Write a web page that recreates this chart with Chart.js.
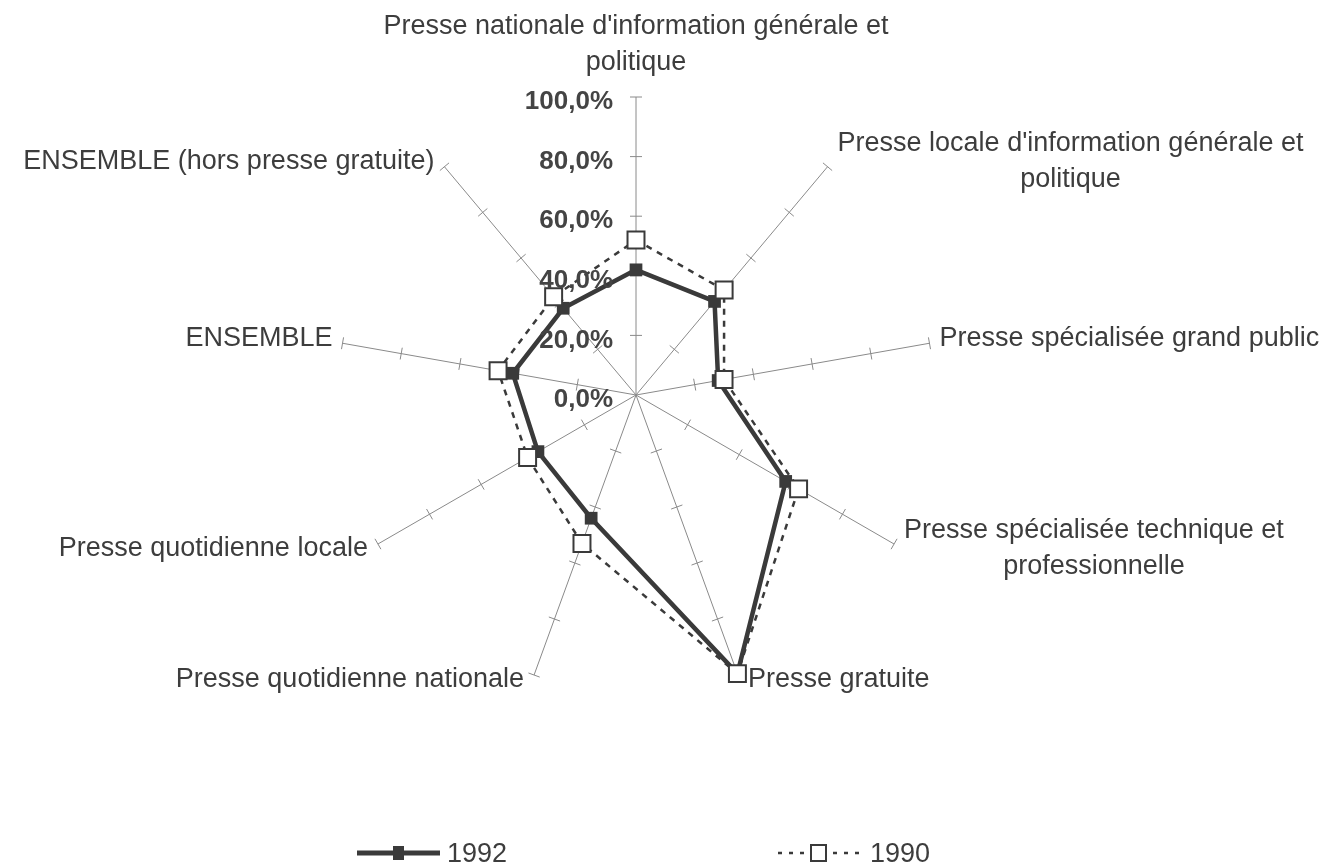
<!DOCTYPE html>
<html>
<head>
<meta charset="utf-8">
<script src="https://cdn.jsdelivr.net/npm/chart.js@4"></script>
<style>
	html, body { margin: 0; padding: 0; background: #fff; }
	#wrap { width: 1326px; height: 867px; position: relative; }
</style>
</head>
<body>
<div id="wrap"><canvas id="radar"></canvas></div>
<script>
// categories (multi-line labels as arrays)
const categories = [
	["Presse nationale d'information générale et", "politique"],
	["Presse locale d'information générale et", "politique"],
	["Presse spécialisée grand public"],
	["Presse spécialisée technique et", "professionnelle"],
	["Presse gratuite"],
	["Presse quotidienne nationale"],
	["Presse quotidienne locale"],
	["ENSEMBLE"],
	["ENSEMBLE (hors presse gratuite)"],
];

const values1992 = [42, 41, 28, 58, 99.5, 44, 38, 42, 38];
const values1990 = [52, 46, 30, 63, 99.5, 53, 42, 47, 43];

const tickValues = [0, 20, 40, 60, 80, 100];

const textColor = '#3d3d3d';
const labelFont = '27px "Liberation Sans", Arial, sans-serif';

function fmtPct(v) {
	return v.toFixed(1).replace('.', ',') + '%';
}

// axis tick marks, drawn under the series
const axisTicks = {
	id: 'axisTicks',
	beforeDatasetsDraw(chart) {
		const scale = chart.scales.r;
		const ctx = chart.ctx;
		ctx.save();
		ctx.strokeStyle = '#8a8a8a';
		ctx.lineWidth = 1;
		for (let i = 0; i < categories.length; i++) {
			const a = scale.getIndexAngle(i) - Math.PI / 2;
			const nx = -Math.sin(a), ny = Math.cos(a);
			tickValues.forEach(function (v) {
				if (v === 0) return;
				const p = scale.getPointPositionForValue(i, v);
				ctx.beginPath();
				ctx.moveTo(p.x - nx * 6, p.y - ny * 6);
				ctx.lineTo(p.x + nx * 6, p.y + ny * 6);
				ctx.stroke();
			});
		}
		ctx.restore();
	}
};

// point labels, tick labels, legend
const decorations = {
	id: 'decorations',
	afterDraw(chart) {
		const scale = chart.scales.r;
		const ctx = chart.ctx;
		ctx.save();
		ctx.fillStyle = textColor;
		ctx.font = labelFont;
		ctx.textBaseline = 'middle';
		const lineH = 36;

		categories.forEach(function (lines, i) {
			const end = scale.getPointPositionForValue(i, 100);
			const deg = Math.round(scale.getIndexAngle(i) * 180 / Math.PI);
			const widths = lines.map(l => ctx.measureText(l).width);
			const blockW = Math.max.apply(null, widths);
			const blockH = (lines.length - 1) * lineH;
			ctx.textAlign = 'center';

			if (deg === 0) {
				lines.forEach(function (l, k) {
					ctx.fillText(l, end.x, end.y - 34 - (lines.length - 1 - k) * lineH);
				});
				return;
			}

			const dy = end.y < scale.yCenter ? -5 : 5;
			const cy = end.y + dy - blockH / 2;
			let cx;
			if (deg < 180) {
				cx = end.x + 10 + blockW / 2;
			} else {
				cx = end.x - 10 - blockW / 2;
			}
			lines.forEach(function (l, k) {
				ctx.fillText(l, cx, cy + k * lineH);
			});
		});

		// tick labels on the first axis
		ctx.font = 'bold 26px "Liberation Sans", Arial, sans-serif';
		ctx.fillStyle = '#444';
		ctx.textAlign = 'right';
		tickValues.forEach(function (v) {
			const p = scale.getPointPositionForValue(0, v);
			ctx.fillText(fmtPct(v), p.x - 23, p.y + 5);
		});

		// legend
		const ly = 853;
		ctx.font = '27px "Liberation Sans", Arial, sans-serif';
		ctx.fillStyle = textColor;
		ctx.textAlign = 'left';

		ctx.strokeStyle = '#3a3a3a';
		ctx.lineWidth = 5;
		ctx.beginPath();
		ctx.moveTo(357, ly);
		ctx.lineTo(440, ly);
		ctx.stroke();
		ctx.fillStyle = '#3a3a3a';
		ctx.fillRect(393, ly - 7, 11, 14);
		ctx.fillStyle = textColor;
		ctx.fillText('1992', 447, ly + 2);

		ctx.lineWidth = 2.5;
		ctx.setLineDash([4, 7]);
		ctx.beginPath();
		ctx.moveTo(778, ly);
		ctx.lineTo(860, ly);
		ctx.stroke();
		ctx.setLineDash([]);
		ctx.fillStyle = '#fff';
		ctx.fillRect(811, ly - 8, 15, 16);
		ctx.lineWidth = 2;
		ctx.strokeRect(811, ly - 8, 15, 16);
		ctx.fillStyle = textColor;
		ctx.fillText('1990', 870, ly + 2);

		ctx.restore();
	}
};

const canvas = document.getElementById('radar');

new Chart(canvas, {
	type: 'radar',
	data: {
		labels: categories,
		datasets: [
			{
				label: '1990',
				data: values1990,
				borderColor: '#3a3a3a',
				borderWidth: 2.5,
				borderDash: [6, 6],
				fill: false,
				pointStyle: 'rect',
				pointRadius: 12,
				pointBorderWidth: 2,
				pointBorderColor: '#3a3a3a',
				pointBackgroundColor: '#fff',
			},
			{
				label: '1992',
				data: values1992,
				borderColor: '#3a3a3a',
				borderWidth: 4.5,
				fill: false,
				pointStyle: 'rect',
				pointRadius: 9,
				pointBorderWidth: 0,
				pointBackgroundColor: '#3a3a3a',
			},
		]
	},
	options: {
		responsive: true,
		maintainAspectRatio: false,
		animation: false,
		layout: {
			padding: {left: 338, right: 392, top: 97, bottom: 174}
		},
		plugins: {
			legend: {display: false},
			tooltip: {enabled: false},
		},
		elements: {
			line: {tension: 0}
		},
		scales: {
			r: {
				min: 0,
				max: 100,
				ticks: {display: false, stepSize: 20},
				grid: {display: false},
				angleLines: {display: true, color: '#8a8a8a', lineWidth: 1},
				pointLabels: {display: false},
			}
		}
	},
	plugins: [axisTicks, decorations],
});
</script>
</body>
</html>
